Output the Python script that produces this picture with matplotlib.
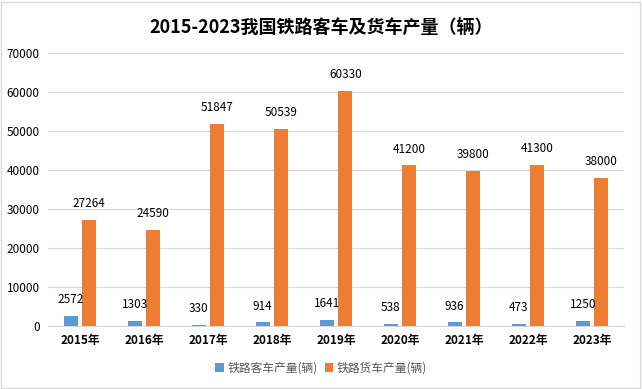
import numpy as np
import matplotlib.pyplot as plt
from matplotlib.patches import Rectangle

plt.rcParams['font.family'] = ['Noto Sans CJK SC', 'DejaVu Sans']

years = ['2015年', '2016年', '2017年', '2018年', '2019年', '2020年', '2021年', '2022年', '2023年']
keche = [2572, 1303, 330, 914, 1641, 538, 936, 473, 1250]
huoche = [27264, 24590, 51847, 50539, 60330, 41200, 39800, 41300, 38000]

fig = plt.figure(figsize=(6.42, 3.89), dpi=100)
ax = fig.add_axes([48 / 642, 1 - 326 / 389, 576 / 642, 273 / 389])

x = np.arange(len(years))
w = 0.22
b1 = ax.bar(x - 0.145, keche, w, color='#5B9BD5', label='铁路客车产量(辆)', zorder=3)
b2 = ax.bar(x + 0.145, huoche, w, color='#ED7D31', label='铁路货车产量(辆)', zorder=3)

# data labels above bars
for bars in (b1, b2):
    for r in bars:
        ax.annotate(str(int(r.get_height())), (r.get_x() + r.get_width() / 2, r.get_height()),
                    xytext=(0, 7), textcoords='offset points', ha='center', va='bottom',
                    fontsize=8.5, fontweight='medium', color='#000000')

ax.set_xlim(-0.5, len(years) - 0.5)
ax.set_ylim(0, 70000)
ax.set_yticks(range(0, 70001, 10000))
ax.yaxis.grid(True, color='#D9D9D9', linewidth=0.8, zorder=0)
ax.set_xticks(x)
ax.set_xticklabels(years, fontsize=8.5, fontweight='bold')
ax.tick_params(axis='y', labelsize=8.5, length=0, pad=6)
ax.tick_params(axis='x', length=0, pad=6)
for s in ['top', 'right', 'left']:
    ax.spines[s].set_visible(False)
ax.spines['bottom'].set_color('#D9D9D9')

fig.suptitle('2015-2023我国铁路客车及货车产量（辆）', fontsize=13, fontweight='bold', y=0.955)

fig.legend(handles=[b1, b2], loc='center', bbox_to_anchor=(0.5, 1 - 368 / 389), ncol=2,
           frameon=False, fontsize=8.5, handlelength=0.7, handleheight=0.7,
           handletextpad=0.3, columnspacing=0.6, labelcolor='#595959')

fig.patches.append(Rectangle((0.002, 0.003), 0.995, 0.993, transform=fig.transFigure,
                             fill=False, edgecolor='#D9D9D9', linewidth=1))

fig.savefig('out.png', dpi=100)
